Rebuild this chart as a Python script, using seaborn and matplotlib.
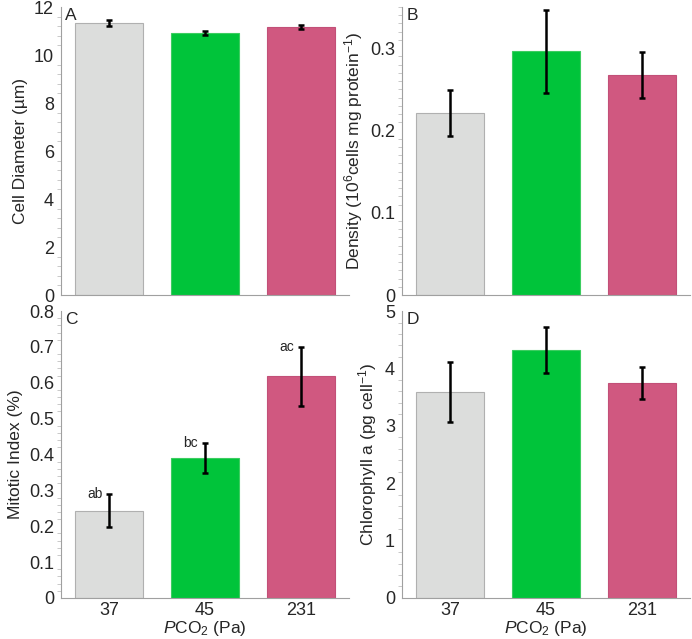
import numpy as np
import pandas as pd
import seaborn as sns
import matplotlib.pyplot as plt
from matplotlib.ticker import MultipleLocator

sns.set_style("white")
plt.rcParams["font.family"] = ["Liberation Sans", "DejaVu Sans"]
plt.rcParams["mathtext.fontset"] = "custom"
plt.rcParams["mathtext.rm"] = "Liberation Sans"
plt.rcParams["mathtext.it"] = "Liberation Sans:italic"

# data
pco2 = ["37", "45", "231"]
diameter = [11.32, 10.93, 11.18]
diameter_err = [0.12, 0.09, 0.08]
density = [0.221, 0.296, 0.267]
density_err = [0.028, 0.050, 0.028]
mitotic = [0.243, 0.390, 0.618]
mitotic_err = [0.046, 0.042, 0.083]
mitotic_sig = ["ab", "bc", "ac"]
chl = [3.59, 4.32, 3.74]
chl_err = [0.53, 0.40, 0.28]

colors = ["#dcdddc", "#00c43a", "#d05880"]
edges = ["#b0b0b0", "#3ccd60", "#c25078"]

fig = plt.figure(figsize=(6.92, 6.39), dpi=100)
ax_a = fig.add_axes([0.0882, 0.5383, 0.416, 0.4507])
ax_b = fig.add_axes([0.581, 0.5383, 0.416, 0.4507])
ax_c = fig.add_axes([0.0882, 0.0642, 0.416, 0.449])
ax_d = fig.add_axes([0.581, 0.0642, 0.416, 0.449])

panels = [
    (ax_a, diameter, diameter_err, "A", "Cell Diameter (µm)", (0, 12), 2, 0.4),
    (ax_b, density, density_err, "B", "Density (10$^6$cells mg protein$^{-1}$)", (0, 0.35), 0.1, 0.01),
    (ax_c, mitotic, mitotic_err, "C", "Mitotic Index (%)", (0, 0.8), 0.1, 0.02),
    (ax_d, chl, chl_err, "D", "Chlorophyll a (pg cell$^{-1}$)", (0, 5), 1, 0.2),
]

for ax, vals, errs, letter, ylab, ylim, major, minor in panels:
    df = pd.DataFrame({"pco2": pco2, "val": vals})
    sns.barplot(data=df, x="pco2", y="val", hue="pco2", palette=colors,
                saturation=1, width=0.7, legend=False, ax=ax, linewidth=0.8)
    for patch, ec in zip(ax.patches, edges):
        patch.set_edgecolor(ec)
    ax.errorbar(range(len(vals)), vals, yerr=errs, fmt="none", ecolor="black",
                elinewidth=1.8, capsize=2.5, capthick=1.8)
    ax.set_xlim(-0.5, 2.5)
    ax.set_ylim(*ylim)
    ax.yaxis.set_major_locator(MultipleLocator(major))
    ax.yaxis.set_minor_locator(MultipleLocator(minor))
    ax.yaxis.set_major_formatter(plt.FuncFormatter(lambda v, p: f"{v:g}"))
    ax.set_ylabel(ylab, fontsize=12.5, labelpad=4)
    ax.set_xlabel("")
    ax.text(0.015, 0.995, letter, transform=ax.transAxes, fontsize=12.5,
            va="top", ha="left")
    sns.despine(ax=ax)
    for s in ["left", "bottom"]:
        ax.spines[s].set_color("#a0a0a0")
        ax.spines[s].set_linewidth(0.8)
    ax.tick_params(axis="y", which="major", direction="inout", length=6,
                   color="#a0a0a0", labelsize=13, pad=2)
    ax.tick_params(axis="y", which="minor", direction="out", length=3,
                   color="#c0c0c0", width=0.6, left=True)
    ax.tick_params(axis="x", length=0, labelsize=13, pad=3)

for ax in (ax_a, ax_b):
    ax.set_xticklabels([])

for ax in (ax_c, ax_d):
    ax.set_xlabel("$P$CO$_2$ (Pa)", fontsize=12.5, labelpad=0)

for i, lab in enumerate(mitotic_sig):
    ax_c.text(i - 0.07, mitotic[i] + mitotic_err[i], lab, fontsize=10,
              ha="right", va="center")

fig.savefig("out.png", dpi=100)
